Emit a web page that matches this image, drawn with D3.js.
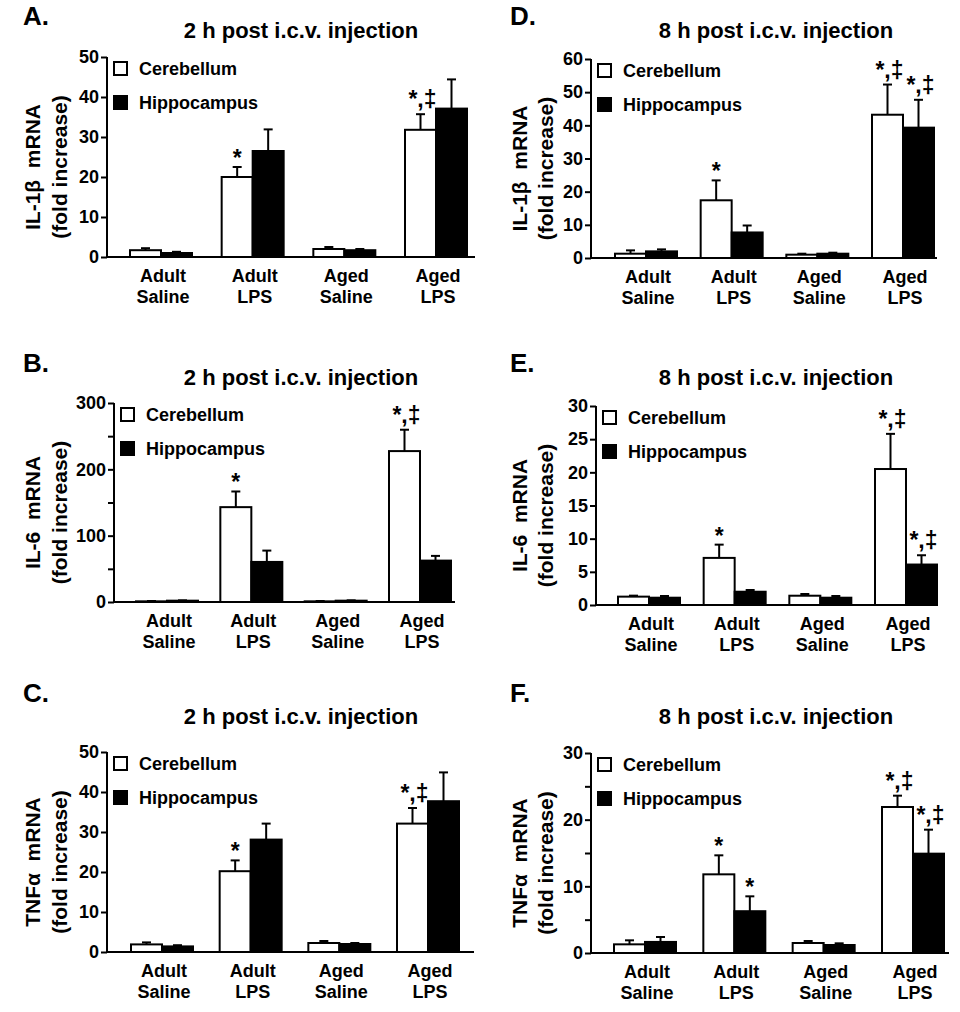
<!DOCTYPE html>
<html>
<head>
<meta charset="utf-8">
<script src="https://cdn.jsdelivr.net/npm/d3@7"></script>
<style>
  html, body { margin: 0; padding: 0; background: #fff; }
  svg { display: block; }
  text { font-family: "Liberation Sans", Arial, sans-serif; font-weight: bold; fill: #000; white-space: pre; }
</style>
</head>
<body>
<svg id="chart" width="960" height="1012"></svg>
<script>
// ---------------- DATA ----------------
const categories = ["Adult Saline", "Adult LPS", "Aged Saline", "Aged LPS"];
const catLine1 = ["Adult", "Adult", "Aged", "Aged"];
const catLine2 = ["Saline", "LPS", "Saline", "LPS"];
const seriesNames = ["Cerebellum", "Hippocampus"];

// Panel A: IL-1β, 2 h
const il1b2hCb = [1.7, 20.0, 2.0, 31.8];
const il1b2hCbErr = [0.5, 2.5, 0.5, 3.9];
const il1b2hHc = [1.0, 26.5, 1.7, 37.1];
const il1b2hHcErr = [0.3, 5.4, 0.3, 7.3];
const il1b2hCbSig = ["", "*", "", "*,‡"];
const il1b2hHcSig = ["", "", "", ""];

// Panel D: IL-1β, 8 h
const il1b8hCb = [1.3, 17.4, 1.0, 43.2];
const il1b8hCbErr = [1.0, 6.0, 0.3, 9.1];
const il1b8hHc = [2.0, 7.7, 1.3, 39.3];
const il1b8hHcErr = [0.6, 2.1, 0.3, 8.4];
const il1b8hCbSig = ["", "*", "", "*,‡"];
const il1b8hHcSig = ["", "", "", "*,‡"];

// Panel B: IL-6, 2 h
const il62hCb = [1, 143, 1, 227.5];
const il62hCbErr = [0.5, 23.6, 0.5, 32.2];
const il62hHc = [2, 60.4, 2, 62.4];
const il62hHcErr = [0.5, 17.1, 0.5, 7.1];
const il62hCbSig = ["", "*", "", "*,‡"];
const il62hHcSig = ["", "", "", ""];

// Panel E: IL-6, 8 h
const il68hCb = [1.26, 7.1, 1.4, 20.5];
const il68hCbErr = [0.15, 2.0, 0.26, 5.3];
const il68hHc = [1.1, 2.0, 1.1, 6.1];
const il68hHcErr = [0.26, 0.26, 0.26, 1.4];
const il68hCbSig = ["", "*", "", "*,‡"];
const il68hHcSig = ["", "", "", "*,‡"];

// Panel C: TNFα, 2 h
const tnf2hCb = [1.9, 20.2, 2.25, 32.1];
const tnf2hCbErr = [0.5, 2.7, 0.5, 3.9];
const tnf2hHc = [1.4, 28.1, 2.0, 37.7];
const tnf2hHcErr = [0.3, 4.0, 0.25, 7.2];
const tnf2hCbSig = ["", "*", "", "*,‡"];
const tnf2hHcSig = ["", "", "", ""];

// Panel F: TNFα, 8 h
const tnf8hCb = [1.3, 11.8, 1.5, 21.9];
const tnf8hCbErr = [0.6, 2.85, 0.3, 1.7];
const tnf8hHc = [1.66, 6.27, 1.2, 14.9];
const tnf8hHcErr = [0.74, 2.23, 0.25, 3.6];
const tnf8hCbSig = ["", "*", "", "*,‡"];
const tnf8hHcSig = ["", "*", "", "*,‡"];

// Axis ticks
const ticksA = [0, 10, 20, 30, 40, 50];
const ticksD = [0, 10, 20, 30, 40, 50, 60];
const ticksB = [0, 100, 200, 300];
const minorB = [50, 150, 250];
const ticksE = [0, 5, 10, 15, 20, 25, 30];
const ticksC = [0, 10, 20, 30, 40, 50];
const ticksF = [0, 10, 20, 30];
const minorF = [5, 15, 25];

const titles2h = "2 h post i.c.v. injection";
const titles8h = "8 h post i.c.v. injection";

// ---------------- PANELS (data refs + layout) ----------------
const panels = [
  { letter: "A.", title: titles2h, ylab: "IL-1β  mRNA", domain: [0, 50], ticks: ticksA, minor: [],
    cb: il1b2hCb, cbErr: il1b2hCbErr, hc: il1b2hHc, hcErr: il1b2hHcErr, cbSig: il1b2hCbSig, hcSig: il1b2hHcSig,
    ax: 107, right: 475, top: 57, bottom: 257, c0: 161, c3: 436, col: 0, letterY: 25, titleY: 38 },
  { letter: "D.", title: titles8h, ylab: "IL-1β  mRNA", domain: [0, 60], ticks: ticksD, minor: [],
    cb: il1b8hCb, cbErr: il1b8hCbErr, hc: il1b8hHc, hcErr: il1b8hHcErr, cbSig: il1b8hCbSig, hcSig: il1b8hHcSig,
    ax: 591, right: 937, top: 59, bottom: 258, c0: 646, c3: 903, col: 1, letterY: 25, titleY: 38 },
  { letter: "B.", title: titles2h, ylab: "IL-6  mRNA", domain: [0, 300], ticks: ticksB, minor: minorB,
    cb: il62hCb, cbErr: il62hCbErr, hc: il62hHc, hcErr: il62hHcErr, cbSig: il62hCbSig, hcSig: il62hHcSig,
    ax: 114, right: 455, top: 403, bottom: 602, c0: 167, c3: 420, col: 0, letterY: 372, titleY: 385 },
  { letter: "E.", title: titles8h, ylab: "IL-6  mRNA", domain: [0, 30], ticks: ticksE, minor: [],
    cb: il68hCb, cbErr: il68hCbErr, hc: il68hHc, hcErr: il68hHcErr, cbSig: il68hCbSig, hcSig: il68hHcSig,
    ax: 596, right: 936, top: 406, bottom: 605, c0: 649, c3: 906, col: 1, letterY: 372, titleY: 385 },
  { letter: "C.", title: titles2h, ylab: "TNFα  mRNA", domain: [0, 50], ticks: ticksC, minor: [],
    cb: tnf2hCb, cbErr: tnf2hCbErr, hc: tnf2hHc, hcErr: tnf2hHcErr, cbSig: tnf2hCbSig, hcSig: tnf2hHcSig,
    ax: 107, right: 474, top: 752, bottom: 952, c0: 162, c3: 428, col: 0, letterY: 702, titleY: 724 },
  { letter: "F.", title: titles8h, ylab: "TNFα  mRNA", domain: [0, 30], ticks: ticksF, minor: minorF,
    cb: tnf8hCb, cbErr: tnf8hCbErr, hc: tnf8hHc, hcErr: tnf8hHcErr, cbSig: tnf8hCbSig, hcSig: tnf8hHcSig,
    ax: 591, right: 949, top: 753, bottom: 953, c0: 645, c3: 913, col: 1, letterY: 702, titleY: 724 }
];

const colLayout = [
  { letterX: 23, titleX: 301, lab1X: 33, lab2X: 60 },
  { letterX: 510, titleX: 776, lab1X: 520, lab2X: 546 }
];

const svg = d3.select("#chart");
const BW = 31, CAP = 9, LW = 2;

panels.forEach(p => {
  const g = svg.append("g");
  const cl = colLayout[p.col];
  const y = d3.scaleLinear().domain(p.domain).range([p.bottom, p.top]);
  const xc = d3.scalePoint().domain(categories).range([p.c0, p.c3]);

  // panel letter & title
  g.append("text").attr("x", cl.letterX).attr("y", p.letterY)
    .attr("font-size", 26).text(p.letter);
  g.append("text").attr("x", cl.titleX).attr("y", p.titleY)
    .attr("text-anchor", "middle").attr("font-size", 22).text(p.title);

  // y axis label (two lines, rotated)
  const cy = (p.top + p.bottom) / 2 + 10;
  g.append("text").attr("transform", `translate(${cl.lab1X},${cy}) rotate(-90)`)
    .attr("text-anchor", "middle").attr("dy", "0.35em").attr("font-size", 21).text(p.ylab);
  g.append("text").attr("transform", `translate(${cl.lab2X},${cy}) rotate(-90)`)
    .attr("text-anchor", "middle").attr("dy", "0.35em").attr("font-size", 21).text("(fold increase)");

  // y axis
  const yAxis = d3.axisLeft(y).tickValues(p.ticks).tickSize(6).tickPadding(2).tickFormat(d3.format("d"));
  const ag = g.append("g").attr("transform", `translate(${p.ax},0)`).call(yAxis);
  ag.select(".domain").attr("stroke", "#000").attr("stroke-width", LW)
    .attr("d", `M0,${y(p.domain[1])}V${y(0)}`);
  ag.selectAll(".tick line").attr("stroke", "#000").attr("stroke-width", LW);
  ag.selectAll(".tick text").attr("font-size", 18).attr("font-family", null).attr("fill", "#000");
  ag.attr("font-family", null).attr("font-size", null);
  if (p.minor.length) {
    const mAxis = d3.axisLeft(y).tickValues(p.minor).tickSize(6).tickFormat("");
    const mg = g.append("g").attr("transform", `translate(${p.ax},0)`).call(mAxis);
    mg.select(".domain").remove();
    mg.selectAll(".tick line").attr("stroke", "#000").attr("stroke-width", LW);
  }

  // x axis baseline
  g.append("line").attr("x1", p.ax).attr("x2", p.right)
    .attr("y1", y(0)).attr("y2", y(0)).attr("stroke", "#000").attr("stroke-width", LW);

  // category labels
  categories.forEach((c, i) => {
    g.append("text").attr("x", xc(c) + 2).attr("y", y(0) + 25)
      .attr("text-anchor", "middle").attr("font-size", 18).text(catLine1[i]);
    g.append("text").attr("x", xc(c) + 2).attr("y", y(0) + 46)
      .attr("text-anchor", "middle").attr("font-size", 18).text(catLine2[i]);
  });

  // bars
  const groups = [
    { vals: p.cb, err: p.cbErr, sig: p.cbSig, fill: "#fff", off: -BW },
    { vals: p.hc, err: p.hcErr, sig: p.hcSig, fill: "#000", off: 0 }
  ];
  groups.forEach(s => {
    categories.forEach((c, i) => {
      const x0 = xc(c) + s.off;
      const mid = x0 + BW / 2;
      const top = y(s.vals[i]);
      const et = y(s.vals[i] + s.err[i]);
      // error bar (upward only)
      g.append("line").attr("x1", mid).attr("x2", mid).attr("y1", top).attr("y2", et)
        .attr("stroke", "#000").attr("stroke-width", LW);
      g.append("line").attr("x1", mid - CAP / 2).attr("x2", mid + CAP / 2).attr("y1", et).attr("y2", et)
        .attr("stroke", "#000").attr("stroke-width", LW);
      g.append("rect").attr("x", x0).attr("y", top).attr("width", BW)
        .attr("height", Math.max(0, y(0) - top))
        .attr("fill", s.fill).attr("stroke", "#000").attr("stroke-width", LW);
      if (s.sig[i]) {
        const dagger = s.sig[i].indexOf("‡") >= 0;
        g.append("text").attr("x", mid + (dagger ? 2 : 0)).attr("y", et - (dagger ? 7 : 1))
          .attr("text-anchor", "middle").attr("font-size", 23).text(s.sig[i]);
      }
    });
  });

  // legend
  seriesNames.forEach((nm, k) => {
    const by = p.top + 5 + k * 34;
    g.append("rect").attr("x", p.ax + 7).attr("y", by).attr("width", 13).attr("height", 13)
      .attr("fill", k === 0 ? "#fff" : "#000").attr("stroke", "#000").attr("stroke-width", LW);
    g.append("text").attr("x", p.ax + 32).attr("y", by + 13).attr("font-size", 18).text(nm);
  });
});
</script>
</body>
</html>
